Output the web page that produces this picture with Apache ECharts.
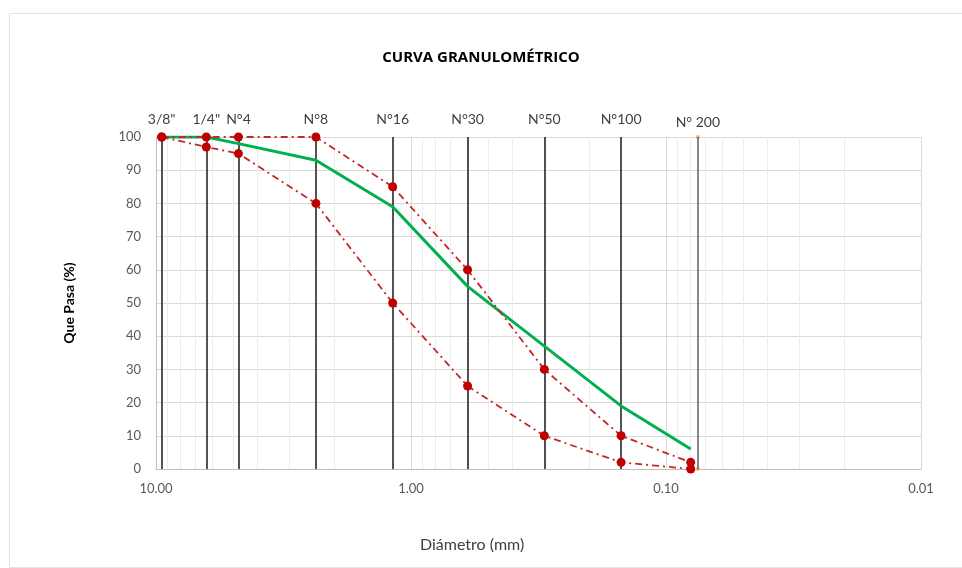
<!DOCTYPE html>
<html>
<head>
<meta charset="utf-8">
<script src="https://cdn.jsdelivr.net/npm/echarts@6/dist/echarts.min.js"></script>
<style>html,body{margin:0;padding:0;background:#fff;}#c{width:962px;height:568px;}</style>
</head>
<body>
<div id="c"></div>
<script>
// Sieve openings (mm) and names
const sieveSizes = [9.5, 6.35, 4.75, 2.36, 1.18, 0.6, 0.3, 0.15, 0.075];
const sieveNames = ['3/8"', '1/4"', 'N°4', 'N°8', 'N°16', 'N°30', 'N°50', 'N°100', 'N° 200'];
// Data points (diameter mm) for the curves
const curveDiam = [9.5, 6.35, 4.75, 2.36, 1.18, 0.6, 0.3, 0.15, 0.08];
const upperLimit = [100, 100, 100, 100, 85, 60, 30, 10, 2];
const lowerLimit = [100, 97, 95, 80, 50, 25, 10, 2, 0];
const sampleCurve = [100, 100, 98, 93, 79, 55, 37, 19, 6];
// Minor log grid positions
const minorGrid = [9, 8, 7, 6, 5, 4, 3, 2, 0.9, 0.8, 0.7, 0.6, 0.5, 0.4, 0.3, 0.2, 0.09, 0.08, 0.07, 0.06, 0.05, 0.04, 0.03, 0.02];
const yTicks = [0, 10, 20, 30, 40, 50, 60, 70, 80, 90, 100];

const FONT = 'Lato, "Open Sans", sans-serif';
const pair = (xs, ys) => xs.map((x, i) => [x, ys[i]]);

const chart = echarts.init(document.getElementById('c'), null, {renderer: 'canvas'});
chart.setOption({
  animation: false,
  backgroundColor: '#fff',
  title: {
    text: 'CURVA GRANULOMÉTRICO',
    left: 'center', top: 45,
    textStyle: {fontFamily: '"Open Sans", sans-serif', fontWeight: 'bold', fontSize: 15, color: '#000'}
  },
  graphic: [
    {type: 'rect', left: 7, top: 11, shape: {width: 970, height: 554}, style: {fill: 'none', stroke: '#e3e3e3', lineWidth: 1}, silent: true, z: -10},
    {type: 'text', left: 420, top: 537, style: {text: 'Diámetro (mm)', font: '16px ' + FONT, fill: '#404040'}}
  ],
  grid: {left: 156, right: 41, top: 137, bottom: 99},
  xAxis: {
    type: 'log', logBase: 10, min: 0.01, max: 10, inverse: true,
    axisLine: {show: true, lineStyle: {color: '#bfbfbf', width: 1}},
    axisTick: {show: false},
    axisLabel: {margin: 13, color: '#595959', fontSize: 13, fontFamily: FONT, formatter: v => Number(v).toFixed(2)},
    splitLine: {show: true, lineStyle: {color: '#d9d9d9', width: 1}}
  },
  yAxis: {
    type: 'value', min: 0, max: 100, interval: 10,
    name: 'Que Pasa (%)', nameLocation: 'middle', nameGap: 80, nameRotate: 90,
    nameTextStyle: {fontFamily: FONT, fontWeight: 'bold', fontSize: 14, color: '#000'},
    axisLine: {show: true, lineStyle: {color: '#bfbfbf', width: 1}},
    axisTick: {show: false},
    axisLabel: {margin: 15, color: '#595959', fontSize: 13, fontFamily: FONT},
    splitLine: {show: true, lineStyle: {color: '#d9d9d9', width: 1}}
  },
  series: [
    {
      name: 'minor', type: 'line', data: [], silent: true, z: 1,
      markLine: {
        silent: true, symbol: ['none', 'none'], animation: false, precision: 4,
        label: {show: false},
        lineStyle: {color: '#ececec', width: 1, type: 'solid'},
        data: minorGrid.map(v => ({xAxis: v}))
      }
    },
    {
      name: 'Tamices', type: 'line', data: [], silent: true, z: 3,
      markLine: {
        silent: true, symbol: ['none', 'none'], animation: false, precision: 4,
        label: {show: true, position: 'end', formatter: '{b}', color: '#404040', fontSize: 14, fontFamily: FONT, distance: 11},
        lineStyle: {color: '#1a1a1a', width: 1.5, type: 'solid'},
        data: sieveSizes.map((v, i) => ({
          name: sieveNames[i], xAxis: v,
          lineStyle: i === sieveSizes.length - 1 ? {color: '#5f5f5f'} : undefined,
          label: i === sieveSizes.length - 1 ? {distance: 8} : undefined
        }))
      }
    },
    {
      name: 'N200ends', type: 'scatter', z: 4, symbolSize: 4,
      itemStyle: {color: '#F0A050'},
      data: [[sieveSizes[8], 100], [sieveSizes[8], 0]]
    },
    {
      name: 'Muestra', type: 'line', z: 5,
      data: pair(curveDiam, sampleCurve),
      showSymbol: false, symbol: 'none',
      lineStyle: {color: '#00B050', width: 3}
    },
    {
      name: 'Límite superior', type: 'line', z: 6,
      data: pair(curveDiam, upperLimit),
      symbol: 'circle', symbolSize: 9,
      itemStyle: {color: '#C00000'},
      lineStyle: {color: '#C0282A', width: 1.8, type: [7, 4, 2, 4]}
    },
    {
      name: 'Límite inferior', type: 'line', z: 6,
      data: pair(curveDiam, lowerLimit),
      symbol: 'circle', symbolSize: 9,
      itemStyle: {color: '#C00000'},
      lineStyle: {color: '#C0282A', width: 1.8, type: [7, 4, 2, 4]}
    }
  ]
});
</script>
</body>
</html>
